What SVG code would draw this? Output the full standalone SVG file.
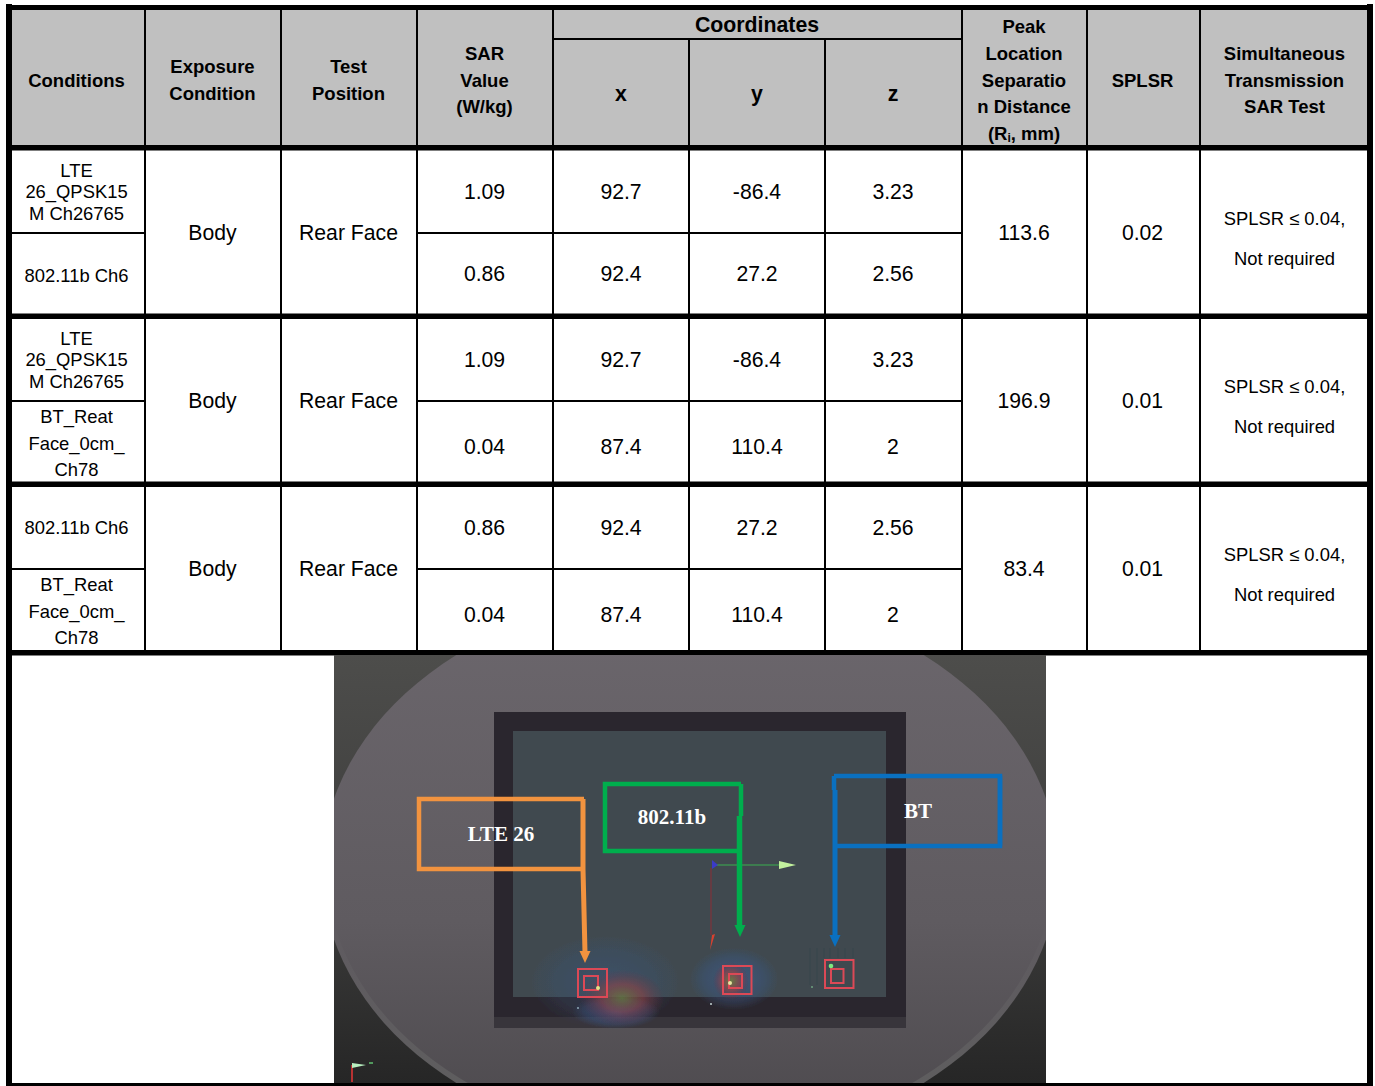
<svg xmlns="http://www.w3.org/2000/svg" width="1375" height="1086" viewBox="0 0 1375 1086">
<style>
text{font-family:"Liberation Sans",Arial,sans-serif;fill:#000;text-anchor:middle}
.h{font-weight:700;font-size:18.5px}
.b{font-size:21.2px}
.s{font-size:18.4px}
.k{fill:#000}
.n{stroke:#000;stroke-width:2;fill:none}
.l{font-family:"Liberation Serif",serif;font-weight:700;font-size:21px;fill:#fff}
.red{fill:none;stroke:#dc4a56;stroke-width:2}
</style>
<defs>
<linearGradient id="bg" x1="0" y1="0" x2="0" y2="1"><stop offset="0" stop-color="#4d4d4b"/><stop offset="0.55" stop-color="#3d3d3c"/><stop offset="1" stop-color="#262626"/></linearGradient>
<linearGradient id="el" x1="0" y1="0" x2="0" y2="1"><stop offset="0" stop-color="#6c676d"/><stop offset=".6" stop-color="#5f5b60"/><stop offset="1" stop-color="#4b484c"/></linearGradient>
<linearGradient id="rim" x1="0" y1="0" x2="0" y2="1"><stop offset="0" stop-color="#6c676d"/><stop offset=".6" stop-color="#5f5b60"/><stop offset="1" stop-color="#5e5e5e"/></linearGradient>
<radialGradient id="blue"><stop offset="0" stop-color="#3a5f98" stop-opacity=".85"/><stop offset=".7" stop-color="#3a5a8c" stop-opacity=".45"/><stop offset="1" stop-color="#3a5a8c" stop-opacity="0"/></radialGradient>
<radialGradient id="hot"><stop offset="0" stop-color="#6f8038" stop-opacity=".85"/><stop offset=".5" stop-color="#a0403f" stop-opacity=".6"/><stop offset="1" stop-color="#7a2a3a" stop-opacity="0"/></radialGradient>
<clipPath id="ph"><rect x="334" y="655" width="712" height="428"/></clipPath>
<filter id="soft" x="-2%" y="-2%" width="104%" height="104%"><feGaussianBlur stdDeviation="0.6"/></filter>
</defs>
<rect width="1375" height="1086" fill="#fff"/>
<g id="table-header">
<rect x="12" y="10" width="1355" height="136" fill="#c0c0c0"/>
</g>
<g id="table-grid">
<rect class="k" x="6" y="4" width="6" height="1082"/>
<rect class="k" x="1367" y="4" width="6" height="1082"/>
<rect class="k" x="6" y="5" width="1367" height="5"/>
<rect class="k" x="6" y="145" width="1367" height="5.5"/>
<rect class="k" x="6" y="313.5" width="1367" height="5.5"/>
<rect class="k" x="6" y="481.5" width="1367" height="5.5"/>
<rect class="k" x="6" y="650" width="1367" height="5.5"/>
<rect class="k" x="12" y="1083" width="1355" height="3"/>
<path class="n" d="M145 10V650M281 10V650M417 10V650M553 10V650M962 10V650M1087 10V650M1200 10V650M689 39V650M825 39V650M553 39H962M12 233H145M417 233H962M12 401H145M417 401H962M12 569H145M417 569H962"/>
</g>
<g id="header-text">
<text class="h" x="76.500" y="87">Conditions</text>
<text class="h" x="212.500" y="73">Exposure</text><text class="h" x="212.500" y="100">Condition</text>
<text class="h" x="348.500" y="73">Test</text><text class="h" x="348.500" y="100">Position</text>
<text class="h" x="484.500" y="60">SAR</text><text class="h" x="484.500" y="87">Value</text><text class="h" x="484.500" y="113">(W/kg)</text>
<text class="h" x="757" y="32" style="font-size:21.300px">Coordinates</text>
<text class="h" x="621" y="101" style="font-size:21.300px">x</text><text class="h" x="757" y="101" style="font-size:21.300px">y</text><text class="h" x="893" y="101" style="font-size:21.300px">z</text>
<text class="h" x="1024" y="33">Peak</text><text class="h" x="1024" y="60">Location</text><text class="h" x="1024" y="87">Separatio</text><text class="h" x="1024" y="113">n Distance</text>
<text class="h" x="1024" y="140">(R<tspan dy="2" style="font-size:12px">i</tspan><tspan dy="-2">, mm)</tspan></text>
<text class="h" x="1142.500" y="87">SPLSR</text>
<text class="h" x="1284.500" y="60">Simultaneous</text><text class="h" x="1284.500" y="87">Transmission</text><text class="h" x="1284.500" y="113">SAR Test</text>
</g>
<g id="row-1">
<text class="s" x="76.500" y="177">LTE</text><text class="s" x="76.500" y="198">26_QPSK15</text><text class="s" x="76.500" y="220">M Ch26765</text>
<text class="s" x="76.500" y="282">802.11b Ch6</text>
<text class="b" x="212.500" y="240">Body</text><text class="b" x="348.500" y="240">Rear Face</text>
<text class="b" x="484.500" y="199">1.09</text><text class="b" x="621" y="199">92.7</text><text class="b" x="757" y="199">-86.4</text><text class="b" x="893" y="199">3.23</text>
<text class="b" x="484.500" y="281">0.86</text><text class="b" x="621" y="281">92.4</text><text class="b" x="757" y="281">27.2</text><text class="b" x="893" y="281">2.56</text>
<text class="b" x="1024" y="240">113.6</text><text class="b" x="1142.500" y="240">0.02</text>
<text class="s" x="1284.500" y="225">SPLSR ≤ 0.04,</text><text class="s" x="1284.500" y="265">Not required</text>
</g>
<g id="row-2">
<text class="s" x="76.500" y="345">LTE</text><text class="s" x="76.500" y="366">26_QPSK15</text><text class="s" x="76.500" y="388">M Ch26765</text>
<text class="s" x="76.500" y="423">BT_Reat</text><text class="s" x="76.500" y="450">Face_0cm_</text><text class="s" x="76.500" y="476">Ch78</text>
<text class="b" x="212.500" y="408">Body</text><text class="b" x="348.500" y="408">Rear Face</text>
<text class="b" x="484.500" y="367">1.09</text><text class="b" x="621" y="367">92.7</text><text class="b" x="757" y="367">-86.4</text><text class="b" x="893" y="367">3.23</text>
<text class="b" x="484.500" y="454">0.04</text><text class="b" x="621" y="454">87.4</text><text class="b" x="757" y="454">110.4</text><text class="b" x="893" y="454">2</text>
<text class="b" x="1024" y="408">196.9</text><text class="b" x="1142.500" y="408">0.01</text>
<text class="s" x="1284.500" y="393">SPLSR ≤ 0.04,</text><text class="s" x="1284.500" y="433">Not required</text>
</g>
<g id="row-3">
<text class="s" x="76.500" y="534">802.11b Ch6</text>
<text class="s" x="76.500" y="591">BT_Reat</text><text class="s" x="76.500" y="618">Face_0cm_</text><text class="s" x="76.500" y="644">Ch78</text>
<text class="b" x="212.500" y="576">Body</text><text class="b" x="348.500" y="576">Rear Face</text>
<text class="b" x="484.500" y="535">0.86</text><text class="b" x="621" y="535">92.4</text><text class="b" x="757" y="535">27.2</text><text class="b" x="893" y="535">2.56</text>
<text class="b" x="484.500" y="622">0.04</text><text class="b" x="621" y="622">87.4</text><text class="b" x="757" y="622">110.4</text><text class="b" x="893" y="622">2</text>
<text class="b" x="1024" y="576">83.4</text><text class="b" x="1142.500" y="576">0.01</text>
<text class="s" x="1284.500" y="561">SPLSR ≤ 0.04,</text><text class="s" x="1284.500" y="601">Not required</text>
</g>
<g id="photo" clip-path="url(#ph)">
<rect x="334" y="655" width="712" height="428" fill="url(#bg)"/>
<ellipse cx="690" cy="869" rx="368" ry="277" fill="url(#rim)"/>
<ellipse cx="690" cy="866" rx="364" ry="274" fill="url(#el)"/>
<g filter="url(#soft)">
<rect x="494" y="712" width="412" height="316" fill="#2b272e"/>
<rect x="494" y="1017" width="412" height="11" fill="#38343b"/>
<rect x="513" y="731" width="373" height="266" fill="#3f4a50"/>
<ellipse cx="605" cy="982" rx="74" ry="46" fill="url(#blue)" opacity=".4"/>
<ellipse cx="616" cy="1012" rx="44" ry="17" fill="url(#blue)" opacity=".75"/>
<ellipse cx="622" cy="998" rx="42" ry="28" fill="url(#hot)" opacity=".8"/>
<ellipse cx="734" cy="979" rx="44" ry="31" fill="url(#blue)" opacity=".75"/>
<ellipse cx="731" cy="981" rx="18" ry="19" fill="url(#hot)"/>
<rect class="red" x="578" y="969" width="29" height="28"/><rect class="red" x="584" y="976" width="14" height="14"/>
<rect class="red" x="723" y="966" width="28.500" height="28"/><rect class="red" x="729" y="974" width="13" height="14"/>
<rect class="red" x="825" y="960" width="28.500" height="28"/><rect class="red" x="831" y="969" width="12.500" height="14"/>
<circle cx="598" cy="988" r="2" fill="#e5e58a"/><circle cx="730" cy="983" r="2" fill="#e5e5a0"/><circle cx="831" cy="966" r="2.300" fill="#7fe87f"/>
<path d="M810 948V985M817 948V985M824 948V958M830 948V958M838 948V958M845 948V958M853 948V958" stroke="#39434a" stroke-width="1" fill="none"/>
<path d="M712 865H780" stroke="#3fae4e" stroke-width="1" fill="none"/>
<path d="M779 861L796 865L779 869Z" fill="#c3f29e"/>
<path d="M711 868V935" stroke="#8c2a34" stroke-width="1" fill="none"/>
<path d="M710 950L712 935L715 934Z" fill="#d9412f"/>
<path d="M712 860L718 865L712 869Z" fill="#3a3ac8"/>
<path d="M352 1065V1082" stroke="#b73030" stroke-width="2" fill="none"/>
<path d="M352 1063L366 1065L352 1068Z" fill="#b8f0c0"/>
<path d="M369 1063L373 1063" stroke="#5fbf6f" stroke-width="1.500"/>
<circle cx="578" cy="1008" r="1" fill="#8fa7b5"/><circle cx="711" cy="1004" r="1" fill="#c5d5d5"/><circle cx="812" cy="987" r="1" fill="#6fa27f"/>
</g>
</g>
<g id="connectors" fill="none" stroke-width="4.500">
<path d="M584 799H419V869H584" stroke="#f2933f"/><path d="M583 799V869L585 953" stroke="#f2933f" stroke-width="5"/>
<path d="M585 963L579.500 951H590.500Z" fill="#f2933f"/>
<path d="M741 784H605V851H741" stroke="#00ae4d"/><path d="M741 784V816" stroke="#00ae4d"/><path d="M739.500 816V928" stroke="#00ae4d" stroke-width="5.500"/>
<path d="M740 937L734.500 925H745.500Z" fill="#00ae4d"/>
<path d="M834 776H1000V846H835" stroke="#0a70c0"/><path d="M1000 776V846M834 776V790" stroke="#0a70c0"/><path d="M835 790V938" stroke="#0a70c0" stroke-width="5"/>
<path d="M835 947L829.500 935H840.500Z" fill="#0a70c0"/>
</g>
<g id="photo-labels">
<text class="l" x="501" y="841">LTE 26</text>
<text class="l" x="672" y="824">802.11b</text>
<text class="l" x="918" y="818">BT</text>
</g>
</svg>
